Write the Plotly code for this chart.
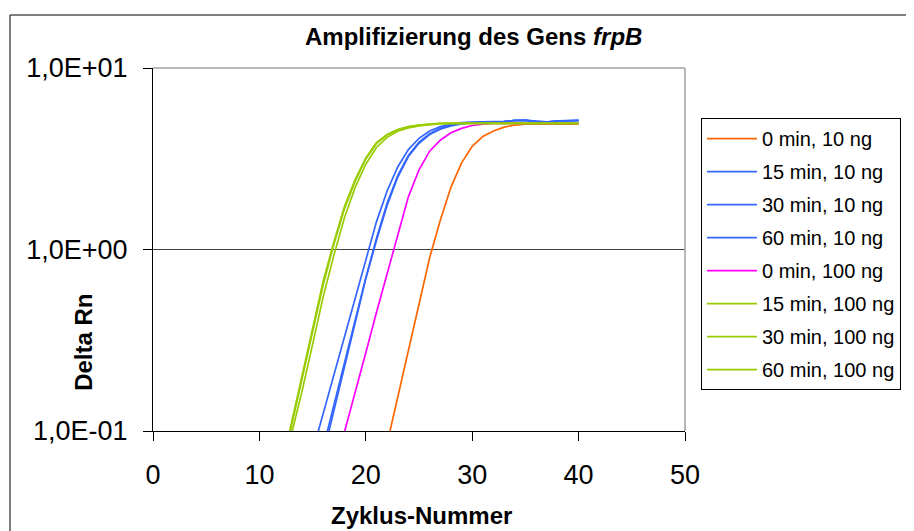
import plotly.graph_objects as go

# ---- data (Delta Rn per PCR cycle) ----
series_names = ["0 min, 10 ng", "15 min, 10 ng", "30 min, 10 ng", "60 min, 10 ng",
                "0 min, 100 ng", "15 min, 100 ng", "30 min, 100 ng", "60 min, 100 ng"]
series_colors = ["#FF6600", "#3366FF", "#3366FF", "#3366FF",
                 "#FF00FF", "#99CC00", "#99CC00", "#99CC00"]

start_0min_10ng = 22
vals_0min_10ng = [0.085, 0.153, 0.275, 0.495, 0.9, 1.45, 2.2, 3.0, 3.7, 4.2, 4.5,
                  4.72, 4.85, 4.9, 4.9, 4.9, 4.9, 4.9, 4.9]

start_15min_10ng = 15
vals_15min_10ng = [0.077, 0.125, 0.205, 0.335, 0.545, 0.89, 1.42, 2.1, 2.85, 3.55, 4.1,
                   4.5, 4.75, 4.9, 5.0, 5.03, 5.05, 5.05, 5.08, 5.15, 5.16, 5.1, 5.05,
                   5.12, 5.15, 5.15]

start_30min_10ng = 16
vals_30min_10ng = [0.081, 0.14, 0.24, 0.41, 0.7, 1.15, 1.8, 2.55, 3.3, 3.9, 4.35, 4.65,
                   4.85, 4.95, 5.0, 5.02, 5.04, 5.06, 5.14, 5.15, 5.08, 5.04, 5.1,
                   5.14, 5.14]

start_60min_10ng = 16
vals_60min_10ng = [0.074, 0.13, 0.228, 0.4, 0.69, 1.12, 1.75, 2.5, 3.25, 3.85, 4.3, 4.6,
                   4.8, 4.92, 5.0, 5.02, 5.04, 5.06, 5.13, 5.14, 5.07, 5.04, 5.1,
                   5.13, 5.13]

start_0min_100ng = 17
vals_0min_100ng = [0.06, 0.098, 0.162, 0.27, 0.45, 0.74, 1.22, 1.95, 2.75, 3.48, 4.0,
                   4.4, 4.65, 4.82, 4.9, 4.95, 4.95, 4.95, 4.95, 4.95, 4.95, 4.95,
                   4.95, 4.95]

start_15min_100ng = 12
vals_15min_100ng = [0.06, 0.11, 0.2, 0.37, 0.67, 1.1, 1.73, 2.43, 3.2, 3.88, 4.3, 4.58,
                    4.75, 4.85, 4.92, 4.95, 4.95, 4.95, 4.95, 4.95, 4.95, 4.95, 4.95,
                    4.95, 4.95, 4.95, 4.95, 4.95, 4.95]

start_30min_100ng = 12
vals_30min_100ng = [0.055, 0.095, 0.165, 0.3, 0.55, 0.93, 1.5, 2.2, 2.95, 3.65, 4.15,
                    4.48, 4.68, 4.8, 4.88, 4.93, 4.95, 4.95, 4.95, 4.95, 4.95, 4.95,
                    4.95, 4.95, 4.95, 4.95, 4.95, 4.95, 4.95]

start_60min_100ng = 12
vals_60min_100ng = [0.058, 0.105, 0.19, 0.35, 0.64, 1.07, 1.68, 2.38, 3.15, 3.83, 4.27,
                    4.56, 4.74, 4.85, 4.92, 4.95, 4.95, 4.95, 4.95, 4.95, 4.95, 4.95,
                    4.95, 4.95, 4.95, 4.95, 4.95, 4.95, 4.95]

series_starts = [start_0min_10ng, start_15min_10ng, start_30min_10ng, start_60min_10ng,
                 start_0min_100ng, start_15min_100ng, start_30min_100ng, start_60min_100ng]
series_values = [vals_0min_10ng, vals_15min_10ng, vals_30min_10ng, vals_60min_10ng,
                 vals_0min_100ng, vals_15min_100ng, vals_30min_100ng, vals_60min_100ng]

y_tickvals = [0.1, 1, 10]
y_ticktext = ["1,0E-01", "1,0E+00", "1,0E+01"]
x_tickvals = [0, 10, 20, 30, 40, 50]

FONT = "Liberation Sans, Arial, sans-serif"

fig = go.Figure()
for name, color, start, vals in zip(series_names, series_colors, series_starts, series_values):
    fig.add_trace(go.Scatter(
        x=list(range(start, start + len(vals))), y=vals, mode="lines", name=name,
        legendgroup=name,
        line=dict(color=color, width=1.7),
    ))

# the page body adds an 8px margin, so the figure is 8px smaller and offset
fig.update_layout(
    width=906, height=523,
    margin=dict(l=145, r=229, t=60, b=100),
    paper_bgcolor="white", plot_bgcolor="white",
    font=dict(family=FONT, color="black"),
    showlegend=True,
    legend=dict(
        x=1.03, y=0.862, xanchor="left", yanchor="top",
        bordercolor="black", borderwidth=1, bgcolor="white",
        font=dict(family=FONT, size=20, color="black"),
        tracegroupgap=4, itemwidth=50,
    ),
    xaxis=dict(
        range=[0, 50], tickvals=x_tickvals, showgrid=False, zeroline=False,
        showline=True, linecolor="black", linewidth=1,
        ticks="outside", ticklen=9, tickcolor="black",
        tickfont=dict(family=FONT, size=27, color="black"),
        ticklabelstandoff=11,
    ),
    yaxis=dict(
        type="log", range=[-1, 1], tickvals=y_tickvals, ticktext=y_ticktext,
        showgrid=True, gridcolor="#404040", gridwidth=1, zeroline=False,
        showline=True, linecolor="black", linewidth=1,
        ticks="outside", ticklen=9, tickcolor="black",
        tickfont=dict(family=FONT, size=27, color="black"),
        ticklabelstandoff=10,
    ),
    annotations=[
        dict(text="<b>Amplifizierung des Gens <i>frpB</i></b>", x=0.6024, y=1.088,
             xref="paper", yref="paper", xanchor="center", yanchor="middle",
             showarrow=False, font=dict(family=FONT, size=24, color="black")),
        dict(text="<b>Zyklus-Nummer</b>", x=0.5038, y=-0.234,
             xref="paper", yref="paper", xanchor="center", yanchor="middle",
             showarrow=False, font=dict(family=FONT, size=24, color="black")),
        dict(text="<b>Delta Rn</b>", x=-0.132, y=0.245, textangle=-90,
             xref="paper", yref="paper", xanchor="center", yanchor="middle",
             showarrow=False, font=dict(family=FONT, size=24, color="black")),
    ],
    shapes=[
        # outer chart frame
        dict(type="rect", xref="paper", yref="paper", x0=-0.2688, x1=1.6, y0=-0.6, y1=1.146,
             line=dict(color="black", width=1), layer="below"),
        # plot-area top and right border (grey)
        dict(type="line", xref="paper", yref="paper", x0=0, x1=1, y0=1, y1=1,
             line=dict(color="#A0A0A0", width=1.5), layer="above"),
        dict(type="line", xref="paper", yref="paper", x0=1, x1=1, y0=0, y1=1,
             line=dict(color="#A0A0A0", width=1.5), layer="above"),
    ],
)

fig.write_html("out.html")
